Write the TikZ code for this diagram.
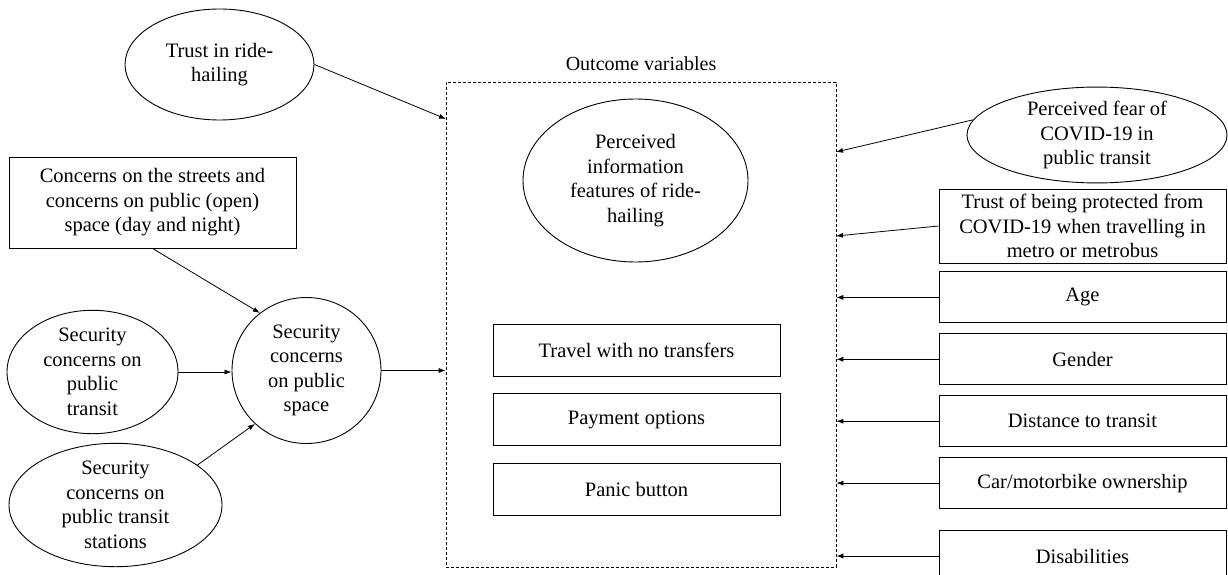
\documentclass[tikz,border=0pt]{standalone}
\usepackage{fontspec}
\setmainfont{Liberation Serif}
\usetikzlibrary{arrows.meta,positioning,shapes.geometric}

\begin{document}
\begin{tikzpicture}[
    x=1pt, y=-1pt,
    font=\fontsize{20.5}{24.5}\selectfont,
    box/.style={draw, line width=0.9pt, minimum width=287pt,
      minimum height=51pt, inner sep=1pt, align=center},
    oval/.style={draw, ellipse, line width=0.9pt, inner sep=0pt, align=center},
    frame/.style={draw, line width=0.7pt, dash pattern=on 3pt off 2pt,
      minimum width=390pt, minimum height=485pt},
    arrow/.style={-{Latex[length=7pt,width=5pt]}, line width=0.8pt}
  ]
    \useasboundingbox (0,0) rectangle (1228,575);

    % outcome variables
    \node[frame] (outcome) at (641,324.5) {};
    \node[above=7pt of outcome, font=\fontsize{20}{24}\selectfont] (outlbl) {Outcome variables};
    \node[oval, minimum width=225pt, minimum height=163pt] (info) at (635.5,180.5)
      {Perceived\\information\\features of ride-\\hailing};
    \node[box, minimum height=52pt] (notransfer) at (636.5,350) {Travel with no transfers};
    \node[box, minimum height=52pt, below=17pt of notransfer] (payment) {Payment options};
    \node[box, minimum height=52pt, below=17pt of payment] (panic) {Panic button};

    % left side
    \node[oval, minimum width=189pt, minimum height=111pt] (trust) at (219.5,64.5)
      {Trust in ride-\\hailing};
    \node[box, minimum height=91pt] (streets) at (152.5,202.5)
      {Concerns on the streets and\\concerns on public (open)\\space (day and night)};
    \node[oval, minimum width=171pt, minimum height=110pt] (transit) at (92.5,372)
      {Security\\concerns on\\public\\transit};
    \node[oval, minimum width=149pt, minimum height=146pt] (space) at (306.5,370.5)
      {Security\\concerns\\on public\\space};
    \node[oval, minimum width=213pt, minimum height=104pt] (stations) at (115.5,505)
      {Security\\concerns on\\public transit\\stations};

    % right side
    \node[oval, minimum width=260pt, minimum height=86pt] (fear) at (1097,135)
      {Perceived fear of\\COVID-19 in\\public transit};
    \node[box, minimum height=74pt] (protect) at (1082.5,226)
      {Trust of being protected from\\COVID-19 when travelling in\\metro or metrobus};
    \node[box, below=8pt of protect] (age) {Age};
    \node[box, below=10pt of age] (gender) {Gender};
    \node[box, below=10pt of gender] (distance) {Distance to transit};
    \node[box, below=10pt of distance] (car) {Car/motorbike ownership};
    \node[box, below=21pt of car] (disab) {Disabilities};

    % connectors
    \coordinate (trustin) at (446,119);
    \coordinate (fearin) at (836,152);
    \coordinate (protectin) at (836,236);
    \draw[arrow] (trust.east) -- (trustin);
    \draw[arrow] (streets.south) -- (space.129);
    \draw[arrow] (transit.east) -- (transit.east -| space.west);
    \draw[arrow] (stations.26) -- (space.226);
    \draw[arrow] (space.east) -- (space.east -| outcome.west);
    \draw[arrow] (fear.173) -- (fearin);
    \draw[arrow] (protect.west) -- (protectin);
    \foreach \n in {age,gender,distance,car,disab}
      \draw[arrow] (\n.west) -- (\n.west -| outcome.east);
\end{tikzpicture}
\end{document}
